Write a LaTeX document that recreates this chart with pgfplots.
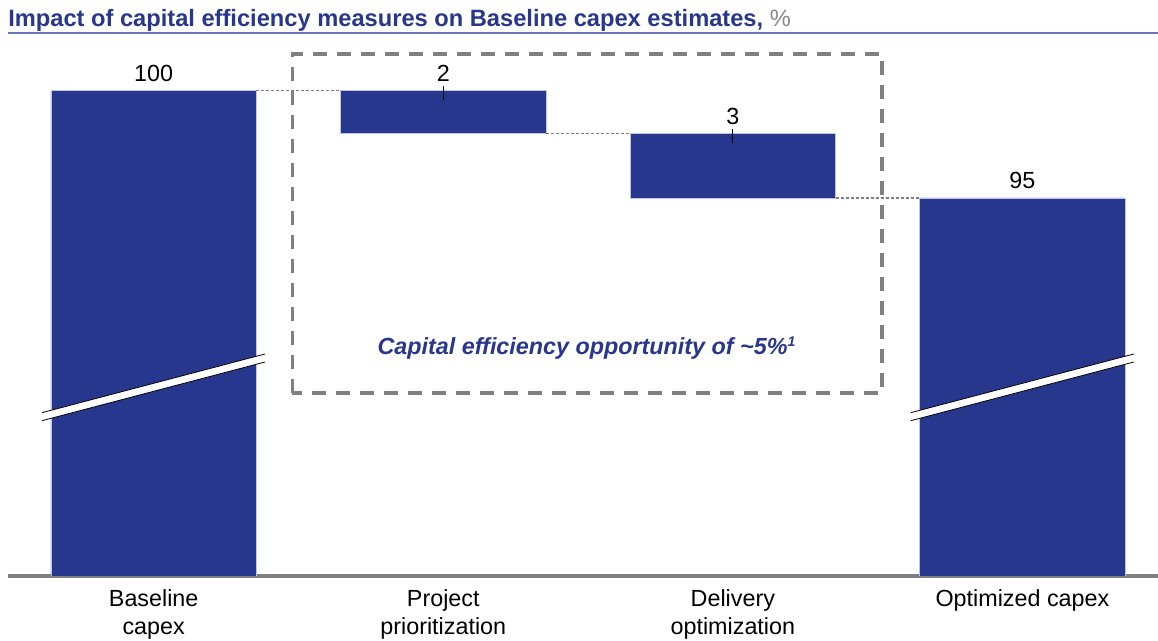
\documentclass[border=0pt]{standalone}
\usepackage{fontspec}
\setmainfont{Liberation Sans}
\usepackage{pgfplots}
\pgfplotsset{compat=1.18}
\definecolor{barblue}{RGB}{39,55,141}
\definecolor{titleblue}{RGB}{40,54,140}
\definecolor{lineblue}{RGB}{104,118,185}
\definecolor{axisgray}{RGB}{128,128,128}
\definecolor{boxgray}{RGB}{128,128,128}
\definecolor{pctgray}{RGB}{135,135,135}
\definecolor{edgeblue}{RGB}{190,196,228}
\pgfplotsset{
  geom/.style={
    at={(6pt,48.75pt)}, anchor=south west,
    width=862.5pt, height=402pt, scale only axis,
    xmin=-0.5031, xmax=3.468, ymin=77.419, ymax=102.349,
  }
}
\begin{document}
\begin{tikzpicture}[font=\fontsize{17.5}{21}\selectfont]
% bars
\begin{axis}[
  geom,
  axis x line=bottom, axis y line=none,
  x axis line style={-, line width=3pt, color=axisgray},
  xtick={0,1,2,3},
  xticklabels={{Baseline\\capex},{Project\\prioritization},{Delivery\\optimization},{Optimized capex}},
  xticklabel style={align=center, font=\fontsize{17.5}{21}\selectfont, anchor=north, inner sep=0pt, yshift=-10.2pt},
  major tick length=0pt,
  ytick=\empty,
  ybar stacked, bar width=0.7096,
]
\addplot[draw=none, fill=none] coordinates {(0,0) (1,98) (2,95) (3,0)};
\addplot[fill=barblue, draw=edgeblue, line width=0.4pt] coordinates {(0,100) (1,2) (2,3) (3,95)};
\end{axis}
% overlay annotations
\begin{axis}[geom, hide axis, clip=false]
% axis breaks
\fill[white] (axis cs:-0.3857,85.014) -- (axis cs:0.3843,87.744) -- (axis cs:0.3843,87.372) -- (axis cs:-0.3857,84.642) -- cycle;
\draw[black, line width=0.6pt] (axis cs:-0.3857,85.014) -- (axis cs:0.3843,87.744);
\draw[black, line width=0.6pt] (axis cs:-0.3857,84.642) -- (axis cs:0.3843,87.372);
\fill[white] (axis cs:2.6143,85.014) -- (axis cs:3.3843,87.744) -- (axis cs:3.3843,87.372) -- (axis cs:2.6143,84.642) -- cycle;
\draw[black, line width=0.6pt] (axis cs:2.6143,85.014) -- (axis cs:3.3843,87.744);
\draw[black, line width=0.6pt] (axis cs:2.6143,84.642) -- (axis cs:3.3843,87.372);
% dashed box
\draw[boxgray, line width=2.5pt, dash pattern=on 10.5pt off 7.5pt] (axis cs:0.4793,85.93) rectangle (axis cs:2.5149,101.698);
% connectors
\addplot[sharp plot, no marks, color=axisgray, line width=0.8pt, dash pattern=on 2.25pt off 1.5pt] coordinates {(0.3548,100) (0.6452,100)};
\addplot[sharp plot, no marks, color=axisgray, line width=0.8pt, dash pattern=on 2.25pt off 1.5pt] coordinates {(1.3548,98) (1.6452,98)};
\addplot[sharp plot, no marks, color=axisgray, line width=0.8pt, dash pattern=on 2.25pt off 1.5pt] coordinates {(2.3548,95) (2.6452,95)};
% leader ticks
\addplot[sharp plot, no marks, black, line width=0.75pt] coordinates {(1,100.186) (1,99.58)};
\addplot[sharp plot, no marks, black, line width=0.75pt] coordinates {(2,98.186) (2,97.58)};
% value labels
\node[anchor=base, yshift=6.75pt, inner sep=0pt] at (axis cs:0,100) {100};
\node[anchor=base, yshift=6.75pt, inner sep=0pt] at (axis cs:1,100) {2};
\node[anchor=base, yshift=6.75pt, inner sep=0pt] at (axis cs:2,98) {3};
\node[anchor=base, yshift=6.75pt, inner sep=0pt] at (axis cs:3,95) {95};
% box text
\node[anchor=base, inner sep=0pt, font=\fontsize{17.5}{21}\selectfont\bfseries\itshape, text=titleblue] at (axis cs:1.4945,87.74) {Capital efficiency opportunity of \textasciitilde5\%\raisebox{0.62ex}{\fontsize{10.5}{10.5}\selectfont 1}};
% title
\node[anchor=base west, inner sep=0pt] at (axis cs:-0.5031,102.967) {\fontsize{17.75}{21}\selectfont{\bfseries\color{titleblue}Impact of capital efficiency measures on Baseline capex estimates,} {\color{pctgray}\%}};
\draw[lineblue, line width=1.5pt] (axis cs:-0.5031,102.66) -- (axis cs:3.468,102.66);
\end{axis}
\pgfresetboundingbox
\path (0,0) rectangle (868.5pt,480.75pt);
\end{tikzpicture}
\end{document}
